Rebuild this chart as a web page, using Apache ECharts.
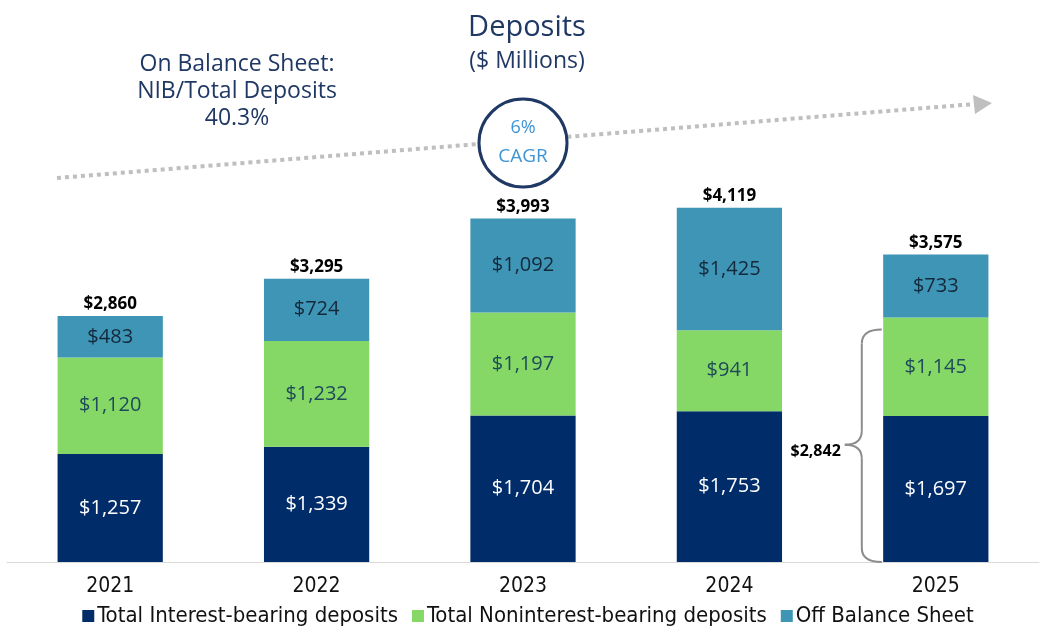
<!DOCTYPE html>
<html>
<head>
<meta charset="utf-8">
<script src="https://cdn.jsdelivr.net/npm/echarts@6/dist/echarts.min.js"></script>
<style>
  html, body { margin: 0; padding: 0; background: #fff; }
  #main { width: 1056px; height: 636px; }
</style>
</head>
<body>
<div id="main"></div>
<script>
// data
const years = ['2021', '2022', '2023', '2024', '2025']
const interestBearing = [1257, 1339, 1704, 1753, 1697]
const nonInterest = [1120, 1232, 1197, 941, 1145]
const offBalance = [483, 724, 1092, 1425, 733]
const seriesNames = ['Total Interest-bearing deposits', 'Total Noninterest-bearing deposits', 'Off Balance Sheet']

const totals = years.map((y, i) => interestBearing[i] + nonInterest[i] + offBalance[i])
const lastIdx = years.length - 1
const onBalanceLast = interestBearing[lastIdx] + nonInterest[lastIdx]

const NAVY = '#002D6A'
const GREEN = '#85D866'
const TEAL = '#3E95B5'
const TITLE = '#1F3864'
const mainFont = 'Open Sans'
const narrowFont = '"Liberation Sans Narrow", "DejaVu Sans Condensed", "Liberation Sans", sans-serif'

const money = v => '$' + v.toLocaleString('en-US')

const chart = echarts.init(document.getElementById('main'))

const segLabel = color => ({
    show: true,
    position: 'inside',
    color: color,
    fontFamily: mainFont,
    fontSize: 20,
    formatter: p => money(p.value)
})

const option = {
    animation: false,
    backgroundColor: '#fff',
    title: [
        {
            text: 'Deposits',
            left: 522, top: 8, textAlign: 'center',
            textStyle: { color: TITLE, fontFamily: mainFont, fontWeight: 'normal', fontSize: 29 }
        },
        {
            text: '($ Millions)',
            left: 522, top: 45, textAlign: 'center',
            textStyle: { color: TITLE, fontFamily: mainFont, fontWeight: 'normal', fontSize: 23 }
        },
        {
            text: 'On Balance Sheet:\nNIB/Total Deposits\n40.3%',
            left: 232, top: 46, textAlign: 'center',
            textStyle: { color: TITLE, fontFamily: mainFont, fontWeight: 'normal', fontSize: 23, lineHeight: 27, align: 'center' }
        }
    ],
    legend: {
        data: seriesNames,
        left: 'center',
        top: 600,
        itemWidth: 12,
        itemHeight: 12,
        itemGap: 14,
        icon: 'rect',
        textStyle: { fontFamily: narrowFont, fontSize: 22, color: '#111', padding: [0, 0, 0, -2] }
    },
    grid: { left: 7, right: 17, top: 132, bottom: 74 },
    xAxis: {
        type: 'category',
        data: years,
        axisTick: { show: false },
        axisLine: { lineStyle: { color: '#D9D9D9', width: 1 } },
        axisLabel: { fontFamily: narrowFont, fontSize: 21, color: '#111', margin: 14 }
    },
    yAxis: {
        type: 'value',
        min: 0,
        max: 5000,
        show: false,
        splitLine: { show: false }
    },
    series: [
        {
            name: seriesNames[0], type: 'bar', stack: 'dep', data: interestBearing,
            barWidth: '51%', itemStyle: { color: NAVY }, label: segLabel('#fff')
        },
        {
            name: seriesNames[1], type: 'bar', stack: 'dep', data: nonInterest,
            itemStyle: { color: GREEN }, label: segLabel('#1E4A5A')
        },
        {
            name: seriesNames[2], type: 'bar', stack: 'dep', data: offBalance,
            itemStyle: { color: TEAL }, label: segLabel('#14283A')
        },
        {
            name: 'total', type: 'bar', stack: 'dep', data: totals.map(() => 0),
            itemStyle: { color: 'transparent' },
            label: {
                show: true, position: 'top', distance: 3,
                color: '#000', fontFamily: mainFont, fontWeight: 'bold', fontSize: 17,
                formatter: p => money(totals[p.dataIndex])
            }
        }
    ]
}

chart.setOption(option)

// annotations: growth arrow, CAGR bubble, brace on the last bar
const [cx, y0] = chart.convertToPixel({ xAxisIndex: 0, yAxisIndex: 0 }, [years[lastIdx], 0])
const [, yBar] = chart.convertToPixel({ xAxisIndex: 0, yAxisIndex: 0 }, [years[lastIdx], onBalanceLast])
const yTop = yBar + 12
const right = cx - 54
const spine = right - 20
const tip = spine - 17
const mid = (y0 + yTop) / 2 - 1
const r = 14
const braceStyle = { stroke: '#8C8C8C', lineWidth: 2, fill: null }
const curve = (x1, y1, cpx, cpy, x2, y2) => ({
    type: 'bezierCurve', z: 10,
    shape: { x1, y1, cpx1: cpx, cpy1: cpy, x2, y2 },
    style: braceStyle
})
const seg = (x1, y1, x2, y2) => ({
    type: 'line', z: 10, shape: { x1, y1, x2, y2 }, style: braceStyle
})

chart.setOption({
    graphic: [
        {
            type: 'line', z: 10,
            shape: { x1: 57, y1: 178, x2: 975, y2: 104 },
            style: { stroke: '#BFBFBF', lineWidth: 4, lineDash: [4, 4] }
        },
        {
            type: 'polygon', z: 10,
            shape: { points: [[973, 95], [992, 103], [975, 114]] },
            style: { fill: '#BFBFBF' }
        },
        {
            type: 'circle', z: 11,
            shape: { cx: 523, cy: 143, r: 44 },
            style: { fill: '#fff', stroke: TITLE, lineWidth: 3 }
        },
        {
            type: 'text', z: 12, x: 523, y: 128,
            style: {
                text: '6%', align: 'center', verticalAlign: 'middle',
                fill: '#3E95D5', font: '18px "Open Sans"'
            }
        },
        {
            type: 'text', z: 12, x: 523, y: 157,
            style: {
                text: 'CAGR', align: 'center', verticalAlign: 'middle',
                fill: '#3E95D5', font: '19px "Open Sans"'
            }
        },
        curve(right, yTop, spine, yTop, spine, yTop + r),
        seg(spine, yTop + r, spine, mid - r),
        curve(spine, mid - r, spine, mid, tip, mid),
        curve(tip, mid, spine, mid, spine, mid + r),
        seg(spine, mid + r, spine, y0 - r),
        curve(spine, y0 - r, spine, y0, right, y0),
        {
            type: 'text', z: 10, x: tip - 4, y: mid + 7,
            style: {
                text: money(onBalanceLast), align: 'right', verticalAlign: 'middle',
                fill: '#000', font: 'bold 16px "Open Sans"'
            }
        }
    ]
})
</script>
</body>
</html>
